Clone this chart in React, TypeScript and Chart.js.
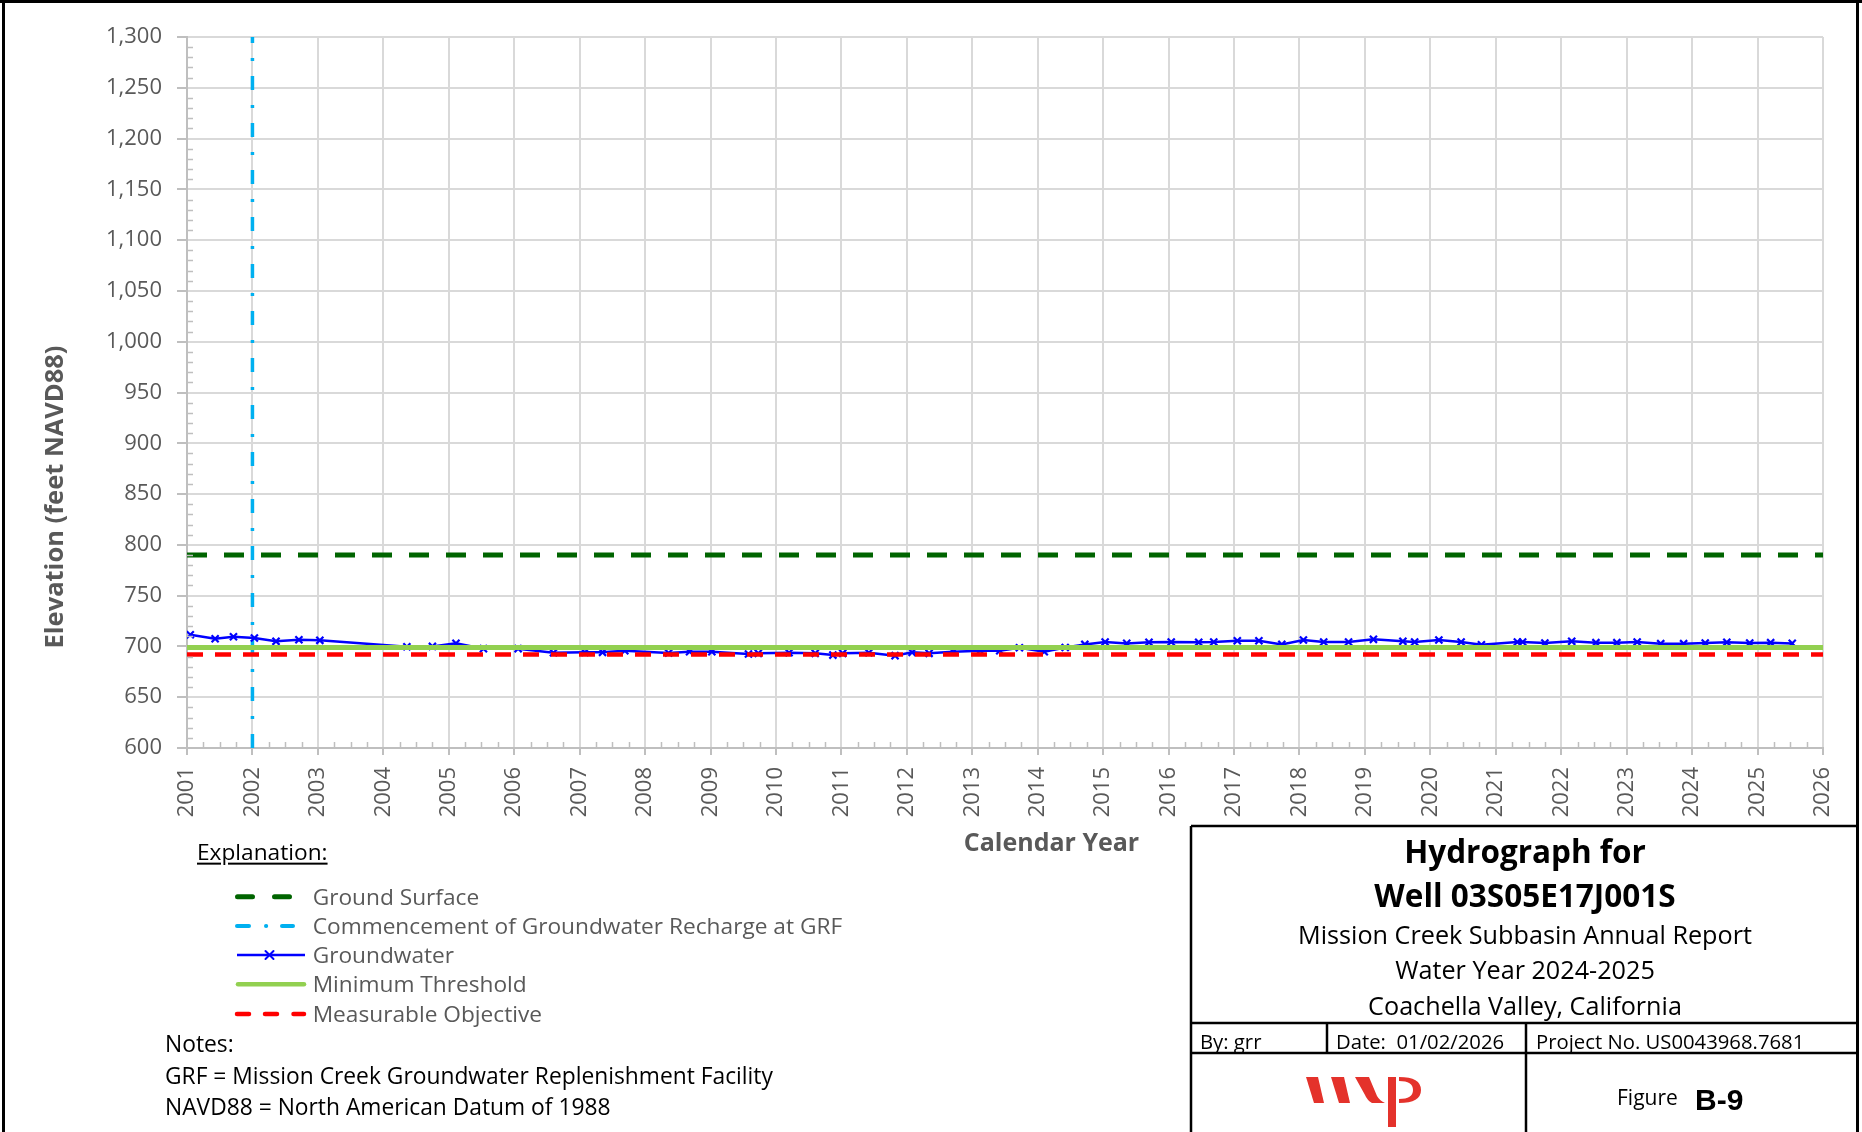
import React, { useEffect, useRef } from "react";
import { Chart, registerables } from "chart.js";

Chart.register(...registerables);

// ---------------- DATA ----------------
const gwYears = [
  2001.05, 2001.43, 2001.71, 2002.03, 2002.36, 2002.71, 2003.03, 2004.36, 2004.75, 2005.11,
  2005.53, 2006.06, 2006.6, 2007.08, 2007.35, 2007.69, 2008.36, 2008.68, 2009.02, 2009.58,
  2009.73, 2010.2, 2010.6, 2010.87, 2011.02, 2011.42, 2011.82, 2012.08, 2012.34, 2012.71,
  2013.12, 2013.42, 2013.72, 2014.1, 2014.42, 2014.72, 2015.03, 2015.36, 2015.7, 2016.04,
  2016.46, 2016.69, 2017.05, 2017.38, 2017.73, 2018.06, 2018.37, 2018.75, 2019.13, 2019.58,
  2019.76, 2020.13, 2020.47, 2020.78, 2021.33, 2021.41, 2021.75, 2022.16, 2022.53, 2022.85,
  2023.16, 2023.52, 2023.87, 2024.2, 2024.53, 2024.88, 2025.2, 2025.53,
];
const gwElevations = [
  711.5, 707.6, 709.5, 708.3, 705.0, 706.6, 706.0, 699.7, 700.0, 703.0,
  697.8, 697.8, 693.8, 694.2, 694.2, 695.8, 693.5, 694.8, 694.8, 692.5,
  693.2, 693.8, 693.2, 691.5, 693.2, 693.8, 690.9, 694.2, 693.2, 694.8,
  695.8, 695.8, 698.7, 694.8, 699.0, 702.0, 704.3, 703.0, 704.0, 704.3,
  704.0, 704.3, 705.6, 705.6, 702.0, 706.3, 704.3, 704.3, 707.0, 705.0,
  704.3, 706.3, 704.3, 701.7, 704.3, 704.3, 703.3, 705.0, 703.7, 703.7,
  704.3, 702.7, 702.7, 703.3, 704.0, 703.3, 703.7, 703.0,
];
const groundSurfaceElev = 790;
const minimumThresholdElev = 699;
const measurableObjectiveElev = 692;
const rechargeStartYear = 2002;
const xRange = [2001, 2026];
const yRange = [600, 1300];
const yMajorStep = 50;
const yMinorStep = 10;
const xMinorPerYear = 4;

const legendLabels = [
  "Ground Surface",
  "Commencement of Groundwater Recharge at GRF",
  "Groundwater",
  "Minimum Threshold",
  "Measurable Objective",
];
const noteLines = [
  "Notes:",
  "GRF = Mission Creek Groundwater Replenishment Facility",
  "NAVD88 = North American Datum of 1988",
];
const titleLines = [
  "Hydrograph for",
  "Well 03S05E17J001S",
  "Mission Creek Subbasin Annual Report",
  "Water Year 2024-2025",
  "Coachella Valley, California",
];

// ---------------- STYLE ----------------
const FONT = '"Open Sans", "Noto Sans", sans-serif';
const GRAY = "#595959";
const C_GS = "#006400";
const C_RECH = "#00B0F0";
const C_GW = "#0000FF";
const C_MT = "#92D050";
const C_MO = "#FF0000";

const minorTicksPlugin = {
  id: "minorTicks",
  afterDraw(chart: any) {
    const { ctx, chartArea, scales } = chart;
    const x = scales.x;
    const y = scales.y;
    ctx.save();
    ctx.strokeStyle = "#BFBFBF";
    ctx.lineWidth = 1.5;
    ctx.beginPath();
    for (let yr = xRange[0]; yr < xRange[1]; yr++) {
      for (let k = 1; k < xMinorPerYear; k++) {
        const px = Math.round(x.getPixelForValue(yr + k / xMinorPerYear)) + 0.5;
        ctx.moveTo(px, chartArea.bottom);
        ctx.lineTo(px, chartArea.bottom - 6);
      }
    }
    for (let v = yRange[0] + yMinorStep; v < yRange[1]; v += yMinorStep) {
      if (v % yMajorStep === 0) continue;
      const py = Math.round(y.getPixelForValue(v)) + 0.5;
      ctx.moveTo(chartArea.left, py);
      ctx.lineTo(chartArea.left + 6, py);
    }
    ctx.stroke();
    ctx.restore();
  },
};

function HydroChart() {
  const ref = useRef<HTMLCanvasElement | null>(null);
  useEffect(() => {
    if (!ref.current) return;
    const hline = (v: number) => [
      { x: xRange[0], y: v },
      { x: xRange[1], y: v },
    ];
    const chart = new Chart(ref.current, {
      type: "line",
      data: {
        datasets: [
          {
            label: legendLabels[0],
            data: hline(groundSurfaceElev),
            borderColor: C_GS,
            borderWidth: 5,
            borderDash: [20, 17],
            pointRadius: 0,
            order: 1,
          },
          {
            label: legendLabels[4],
            data: hline(measurableObjectiveElev),
            borderColor: C_MO,
            borderWidth: 4.5,
            borderDash: [16, 12],
            pointRadius: 0,
            order: 2,
          },
          {
            label: legendLabels[3],
            data: hline(minimumThresholdElev),
            borderColor: C_MT,
            borderWidth: 5,
            pointRadius: 0,
            order: 3,
          },
          {
            label: legendLabels[2],
            data: gwYears.map((x, i) => ({ x, y: gwElevations[i] })),
            borderColor: C_GW,
            borderWidth: 2.5,
            pointStyle: "crossRot",
            pointRadius: 5,
            pointBorderWidth: 2.2,
            pointBorderColor: C_GW,
            pointBackgroundColor: C_GW,
            order: 4,
          },
          {
            label: legendLabels[1],
            data: [
              { x: rechargeStartYear, y: yRange[0] },
              { x: rechargeStartYear, y: yRange[1] },
            ],
            borderColor: C_RECH,
            borderWidth: 3.5,
            borderDash: [14, 15, 3, 15],
            pointRadius: 0,
            order: 5,
          },
        ],
      } as any,
      options: {
        animation: false,
        responsive: false,
        devicePixelRatio: 1,
        events: [],
        layout: { padding: { top: 37, right: 39, left: 0, bottom: 0 } },
        plugins: { legend: { display: false }, tooltip: { enabled: false } },
        scales: {
          x: {
            type: "linear",
            min: xRange[0],
            max: xRange[1],
            afterFit: (s: any) => {
              s.height = 82;
            },
            ticks: {
              stepSize: 1,
              autoSkip: false,
              maxRotation: 90,
              minRotation: 90,
              padding: 12,
              color: GRAY,
              font: { family: FONT, size: 22 },
              callback: (v: any) => String(v),
            },
            grid: { color: "#D9D9D9", lineWidth: 2, tickLength: 7, tickColor: "#BFBFBF", tickWidth: 2 },
            border: { color: "#BFBFBF", width: 2 },
          },
          y: {
            type: "linear",
            min: yRange[0],
            max: yRange[1],
            afterFit: (s: any) => {
              s.width = 187;
            },
            ticks: {
              stepSize: yMajorStep,
              padding: 15,
              color: GRAY,
              font: { family: FONT, size: 22 },
              callback: (v: any) => Number(v).toLocaleString("en-US"),
            },
            grid: { color: "#D9D9D9", lineWidth: 2, tickLength: 10, tickColor: "#BFBFBF", tickWidth: 2 },
            border: { color: "#BFBFBF", width: 2 },
          },
        },
      } as any,
      plugins: [minorTicksPlugin],
    });
    return () => chart.destroy();
  }, []);
  return (
    <canvas
      ref={ref}
      width={1862}
      height={830}
      style={{ position: "absolute", left: 0, top: 0, width: 1862, height: 830 }}
    />
  );
}

type TP = {
  x: number;
  y: number;
  size: number;
  center?: boolean;
  bold?: boolean;
  color?: string;
  family?: string;
  underline?: boolean;
  rotate?: boolean;
  children: React.ReactNode;
};
function T({ x, y, size, center, bold, color, family, underline, rotate, children }: TP) {
  let transform = center ? "translate(-50%,-50%)" : "translateY(-50%)";
  if (rotate) transform = "translate(-50%,-50%) rotate(-90deg)";
  return (
    <div
      style={{
        position: "absolute",
        left: x,
        top: y,
        transform,
        fontFamily: family || FONT,
        fontSize: size,
        fontWeight: bold ? 700 : 400,
        color: color || "#000",
        lineHeight: 1,
        whiteSpace: "nowrap",
        textDecoration: underline ? "underline" : "none",
        textUnderlineOffset: 3,
      }}
    >
      {children}
    </div>
  );
}

export default function App() {
  const legendY = [896.7, 926, 955, 984.3, 1014];
  const noteY = [1044, 1076, 1107];
  const titleY = [851, 895, 935, 970, 1006];
  return (
    <div
      style={{
        position: "absolute",
        left: 0,
        top: 0,
        width: 1862,
        height: 1132,
        background: "#fff",
        overflow: "hidden",
        fontFamily: FONT,
      }}
    >
      <HydroChart />
      <svg
        width={1862}
        height={1132}
        style={{ position: "absolute", left: 0, top: 0, pointerEvents: "none" }}
      >
        {/* outer frame */}
        <line x1={3.5} y1={0} x2={3.5} y2={1132} stroke="#000" strokeWidth={3} />
        <line x1={0} y1={1.5} x2={1862} y2={1.5} stroke="#000" strokeWidth={3} />
        <line x1={1857.5} y1={0} x2={1857.5} y2={1132} stroke="#000" strokeWidth={3} />
        {/* title block */}
        <g stroke="#000" strokeWidth={2.5}>
          <line x1={1191} y1={826} x2={1191} y2={1132} />
          <line x1={1191} y1={826} x2={1858} y2={826} />
          <line x1={1191} y1={1023} x2={1858} y2={1023} />
          <line x1={1191} y1={1053} x2={1858} y2={1053} />
          <line x1={1327} y1={1023} x2={1327} y2={1053} />
          <line x1={1526} y1={1023} x2={1526} y2={1132} />
        </g>
        {/* legend samples */}
        <g strokeLinecap="round">
          <line x1={237.5} y1={legendY[0]} x2={252.5} y2={legendY[0]} stroke={C_GS} strokeWidth={5} />
          <line x1={274.5} y1={legendY[0]} x2={289.5} y2={legendY[0]} stroke={C_GS} strokeWidth={5} />
          <line x1={237} y1={legendY[1]} x2={249} y2={legendY[1]} stroke={C_RECH} strokeWidth={4} />
          <line x1={266} y1={legendY[1]} x2={266.2} y2={legendY[1]} stroke={C_RECH} strokeWidth={4} />
          <line x1={282} y1={legendY[1]} x2={293} y2={legendY[1]} stroke={C_RECH} strokeWidth={4} />
          <line x1={237} y1={legendY[2]} x2={305} y2={legendY[2]} stroke={C_GW} strokeWidth={2.5} strokeLinecap="butt" />
          <line x1={265.5} y1={legendY[2] - 4} x2={273.5} y2={legendY[2] + 4} stroke={C_GW} strokeWidth={2} />
          <line x1={265.5} y1={legendY[2] + 4} x2={273.5} y2={legendY[2] - 4} stroke={C_GW} strokeWidth={2} />
          <line x1={238} y1={legendY[3]} x2={304} y2={legendY[3]} stroke={C_MT} strokeWidth={4.5} />
          <line x1={237} y1={legendY[4]} x2={249} y2={legendY[4]} stroke={C_MO} strokeWidth={4.5} />
          <line x1={265} y1={legendY[4]} x2={277} y2={legendY[4]} stroke={C_MO} strokeWidth={4.5} />
          <line x1={293.5} y1={legendY[4]} x2={304} y2={legendY[4]} stroke={C_MO} strokeWidth={4.5} />
        </g>
        {/* WSP logo */}
        <g fill="#E4322B">
          <polygon points="1306,1077 1318,1077 1324,1103 1314,1103" />
          <polygon points="1331,1077 1344,1077 1350,1103 1339,1103" />
          <path d="M1355,1077 L1369,1077 L1377,1096 Q1380,1101 1385,1103 L1372,1103 Q1367,1100 1365,1095 Z" />
          <rect x={1388} y={1077} width={8} height={50} />
          <path d="M1399,1077 Q1421,1077 1421,1090 Q1421,1103 1399,1103 L1399,1099 Q1413,1099 1413,1090 Q1413,1081 1399,1081 Z" />
        </g>
      </svg>

      {/* axis titles */}
      <T x={53.5} y={497} size={25.5} bold rotate color={GRAY}>
        Elevation (feet NAVD88)
      </T>
      <T x={1051.5} y={841} size={25} bold center color={GRAY}>
        Calendar Year
      </T>

      {/* legend */}
      <T x={197} y={852} size={22.7} underline>
        Explanation:
      </T>
      {legendLabels.map((l, i) => (
        <T key={l} x={312.7} y={legendY[i]} size={22.7} color={GRAY}>
          {l}
        </T>
      ))}
      {noteLines.map((l, i) => (
        <T key={l} x={165} y={noteY[i]} size={22.8}>
          {l}
        </T>
      ))}

      {/* title block */}
      {titleLines.map((l, i) => (
        <T key={l} x={1525} y={titleY[i]} size={i < 2 ? 31.5 : 25.2} bold={i < 2} center>
          {l}
        </T>
      ))}
      <T x={1200} y={1041} size={20.3}>
        By: grr
      </T>
      <T x={1336} y={1041} size={20.3}>
        {"Date:\u00a0 01/02/2026"}
      </T>
      <T x={1536} y={1041} size={20.3}>
        Project No. US0043968.7681
      </T>
      <T x={1617} y={1097} size={21}>
        Figure
      </T>
      <T x={1695} y={1100} size={30} bold family={'"Liberation Sans", Arial, sans-serif'}>
        B-9
      </T>
    </div>
  );
}
